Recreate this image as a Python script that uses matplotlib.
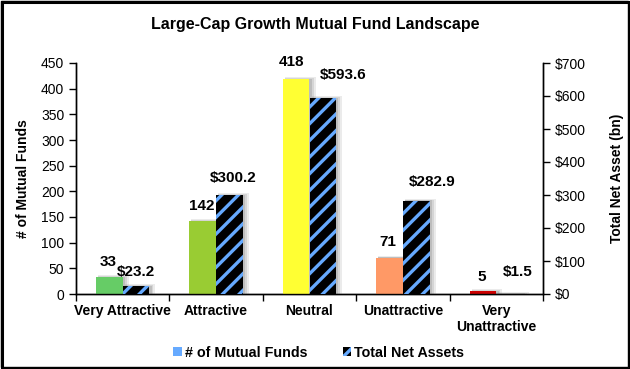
import matplotlib
matplotlib.use("Agg")
import matplotlib.pyplot as plt
from matplotlib.patches import Patch, Rectangle
import numpy as np

plt.rcParams['font.family'] = ['Liberation Sans', 'DejaVu Sans']
plt.rcParams['hatch.linewidth'] = 2.4

categories = ["Very Attractive", "Attractive", "Neutral", "Unattractive", "Very\nUnattractive"]
num_funds = [33, 142, 418, 71, 5]
net_assets = [23.2, 300.2, 593.6, 282.9, 1.5]
fund_colors = ["#66CC66", "#99CC33", "#FFFF33", "#FF9966", "#CC0000"]
fund_labels = ["33", "142", "418", "71", "5"]
asset_labels = ["$23.2", "$300.2", "$593.6", "$282.9", "$1.5"]

fig = plt.figure(figsize=(6.3, 3.69), dpi=100)
ax = fig.add_axes([76/630, 1-294/369, (543-76)/630, (294-63)/369])
ax2 = ax.twinx()
ax2.set_zorder(ax.get_zorder() + 1)
ax2.patch.set_visible(False)

x = np.arange(len(categories))
w = 0.285
px = 1/93.4  # approx data units per pixel horizontally

# soft shadows (drawn first, underneath bars)
for (dx, extra, alpha) in [(4*px, 4*px, 0.16), (3*px, 2*px, 0.22), (2*px, 0.5*px, 0.3)]:
    ax.bar(x - w/2 + dx, np.array(num_funds) * 1.0 + 450*extra/px/231*0.5, w + extra,
           color='#888888', alpha=alpha, edgecolor='none', zorder=2)
    ax2.bar(x + w/2 + dx, np.array(net_assets) * 1.0 + 700*extra/px/231*0.5, w + extra,
            color='#888888', alpha=alpha, edgecolor='none', zorder=2)

b1 = ax.bar(x - w/2, num_funds, w, color=fund_colors, edgecolor='none', zorder=3)
b2 = ax2.bar(x + w/2, net_assets, w, color='black', edgecolor='#66AAFF', hatch='//',
             linewidth=0, zorder=3)

ax.set_ylim(0, 450)
ax2.set_ylim(0, 700)
ax.set_xlim(-0.5, 4.5)
ax.set_yticks(np.arange(0, 451, 50))
ax2.set_yticks(np.arange(0, 701, 100))
ax2.set_yticklabels([f"${v}" for v in range(0, 701, 100)])

ax.set_xticks(x)
ax.set_xticklabels(categories, fontweight='bold', fontsize=10)
ax.tick_params(axis='x', which='major', length=0, pad=7)
ax.set_xticks(np.arange(-0.5, 5, 1), minor=True)
ax.tick_params(axis='x', which='minor', length=5, direction='out', width=1)
ax.tick_params(axis='y', length=5, width=1, labelsize=10)
ax2.tick_params(axis='y', length=5, width=1, labelsize=10)

for a in (ax, ax2):
    a.spines['top'].set_visible(False)
    for s in ('left', 'right', 'bottom'):
        a.spines[s].set_linewidth(1)
        a.spines[s].set_color('black')

ax.set_ylabel("# of Mutual Funds", fontweight='bold', fontsize=10, labelpad=8)
ax2.set_ylabel("Total Net Asset (bn)", fontweight='bold', fontsize=10, labelpad=17)

fund_off = [(-1, 15), (-1, 15), (-5, 17), (-2, 16), (-1, 14)]
asset_off = [(0, 14), (4, 17), (20, 23), (16, 19), (8, 22)]
for i in range(len(categories)):
    ax2.annotate(fund_labels[i], (x[i] - w/2, num_funds[i] * 700/450),
                 xytext=(fund_off[i][0]*0.72, fund_off[i][1]*0.72), textcoords='offset points',
                 ha='center', va='center', fontweight='bold', fontsize=11, zorder=5)
    ax2.annotate(asset_labels[i], (x[i] + w/2, net_assets[i]),
                 xytext=(asset_off[i][0]*0.72, asset_off[i][1]*0.72), textcoords='offset points',
                 ha='center', va='center', fontweight='bold', fontsize=11, zorder=5)

fig.text(0.5, 1-24/369, "Large-Cap Growth Mutual Fund Landscape", ha='center', va='center',
         fontweight='bold', fontsize=11.5)

handles = [Patch(facecolor='#66AAFF', edgecolor='none'),
           Patch(facecolor='black', edgecolor='#66AAFF', hatch='//', linewidth=0)]
fig.legend(handles, ["# of Mutual Funds", "Total Net Assets"], loc='center',
           bbox_to_anchor=(0.506, 1-353/369), ncol=2, frameon=False,
           handlelength=0.6, handleheight=0.6, handletextpad=0.2, columnspacing=2.5,
           prop={'weight': 'bold', 'size': 10.3})

# figure border with shadow
fig.patches.append(Rectangle((2/630, 0), 628/630, 367/369, transform=fig.transFigure,
                             facecolor='none', edgecolor='black', linewidth=2.2, zorder=0))
fig.patches.append(Rectangle((0.5/630, 2/369), 627/630, 366.5/369, transform=fig.transFigure,
                             facecolor='none', edgecolor='black', linewidth=1, zorder=1))

fig.savefig("out.png", dpi=100)
